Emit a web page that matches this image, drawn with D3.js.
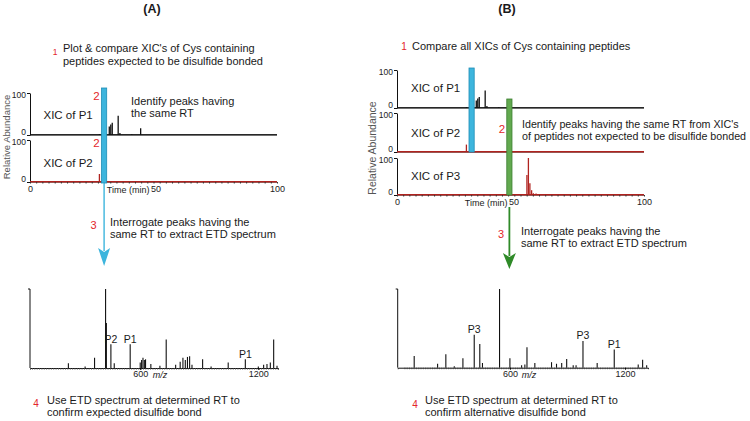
<!DOCTYPE html>
<html><head><meta charset="utf-8">
<script src="https://cdn.jsdelivr.net/npm/d3@7"></script>
<style>
body{margin:0;background:#fff}
svg{display:block}
text{font-family:"Liberation Sans",Arial,sans-serif;fill:#1a1a1a}
</style>
</head><body>
<svg id="c" width="750" height="421"></svg>
<script>
// ---------------- DATA ----------------
const xicTicks = [0, 50, 100];
const specTicks = [600, 1200];
// XIC peaks: [retention time (min), relative abundance]
const p1Peaks = [[28.1,2],[32.1,20],[32.7,25],[33.3,29],[35.7,46],[36.4,5],[41.2,2],[44.8,16]];
const p2Peaks = [[28.1,19]];
const p3Peaks = [[52.6,54],[53.2,100],[53.8,32],[54.5,13],[55.2,5],[56.3,4]];
// retention times highlighted
const rtA = 30.0;
const rtB1 = 30.2;
const rtB2 = 45.5;
// ETD spectra: [m/z, relative intensity]
const spectrumA = [[235,6],[320,2],[368,13],[424,100],[428,57],[451,30],[468,6],[549,30],
  [600,7],[607,10],[614,13],[621,10],[627,11],[654,5],[700,3],[732,36],[780,4],[803,8],[817,13],
  [829,10],[840,14],[851,15],[863,4],[917,11],[960,2],[1047,7],[1134,11],[1200,2],[1227,4],
  [1244,5],[1261,7],[1278,36],[1295,3]];
const spectrumB = [[101,15],[223,5],[266,17],[310,2],[355,12],[414,42],[443,30],[457,6],[546,100],
  [600,12],[661,3],[678,4],[689,26],[730,6],[817,7],[843,5],[870,6],[896,11],[930,3],[945,3],
  [981,34],[1055,6],[1144,23],[1269,4],[1292,10],[1313,3]];
const labelsA = [["P2",451],["P1",549],["P1",1134]];
const labelsB = [["P3",414],["P3",981],["P1",1144]];

// ---------------- DRAWING ----------------
const svg = d3.select('#c');
const RED = '#e3262b', TRACE_RED = '#b0231f';
const CYAN = '#3db5dd', CYAN_D = '#1f8db6';
const GREEN = '#62a94f', GREEN_D = '#3c7f31', GREEN_A = '#2f8a28';

function txt(x, y, s, o = {}) {
  const t = svg.append('text').attr('x', x).attr('y', y).text(s)
    .attr('font-size', o.size || 11);
  if (o.fill) t.style('fill', o.fill);
  if (o.anchor) t.attr('text-anchor', o.anchor);
  if (o.weight) t.attr('font-weight', o.weight);
  if (o.italic) t.attr('font-style', 'italic');
  return t;
}

function xicPanel(xs, ys, peaks, color, lw) {
  const g = svg.append('g');
  const x0 = xs.range()[0];
  const ya = g.append('g').attr('transform', `translate(${x0},0)`)
    .call(d3.axisLeft(ys).tickValues([0, 100]).tickSize(3).tickSizeOuter(0).tickPadding(1));
  ya.selectAll('text').attr('font-size', 8.5).style('fill', '#222').attr('font-family', null)
    .attr('dy', d => d === 0 ? '-0.05em' : '0.55em');
  ya.selectAll('line,path').attr('stroke', '#111');
  g.append('line').attr('x1', xs(0)).attr('x2', xs(100)).attr('y1', ys(0)).attr('y2', ys(0))
    .attr('stroke', '#111').attr('stroke-width', 1);
  g.append('line').attr('x1', xs(0)).attr('x2', xs(100)).attr('y1', ys(0) - 0.3).attr('y2', ys(0) - 0.3)
    .attr('stroke', color).attr('stroke-width', lw);
  g.selectAll('.pk').data(peaks).join('line')
    .attr('x1', d => xs(d[0])).attr('x2', d => xs(d[0]))
    .attr('y1', ys(0)).attr('y2', d => ys(d[1]))
    .attr('stroke', color).attr('stroke-width', 1.3);
  return g;
}

function timeAxis(xs, y, shift50) {
  const g = svg.append('g').attr('transform', `translate(0,${y})`)
    .call(d3.axisBottom(xs).tickValues(d3.range(0, 101, 2.5)).tickSize(1.5).tickFormat(''));
  g.select('.domain').remove();
  g.selectAll('line').attr('stroke', '#333');
  const g2 = svg.append('g').attr('transform', `translate(0,${y})`)
    .call(d3.axisBottom(xs).tickValues(xicTicks).tickSize(0).tickPadding(4).tickFormat(d3.format('d')));
  g2.select('.domain').remove();
  g2.selectAll('text').attr('font-size', 9).style('fill', '#222').attr('font-family', null)
    .attr('dx', d => d === 50 ? shift50 : 0);
  const x50 = xs(50) + shift50;
  txt(x50 - 6, y + 11, 'Time (min)', { size: 9, anchor: 'end', fill: '#222' });
}

function bar(xs, rt, yTop, yBot, fill, stroke) {
  svg.append('rect').attr('x', xs(rt) - 2.6).attr('width', 5.2)
    .attr('y', yTop).attr('height', yBot - yTop)
    .attr('fill', fill).attr('stroke', stroke).attr('stroke-width', 0.8);
}

function arrow(x, y1, yBase, yTip, half, color, lw) {
  svg.append('line').attr('x1', x).attr('x2', x).attr('y1', y1).attr('y2', yBase + 2)
    .attr('stroke', color).attr('stroke-width', lw);
  svg.append('path')
    .attr('d', `M${x - half},${yBase - 1}L${x},${yBase + 3}L${x + half},${yBase - 1}L${x},${yTip}Z`)
    .attr('fill', color);
}

function spectrum(xs, ys, data, labels, labelDy) {
  const g = svg.append('g');
  const [x0] = xs.range();
  g.append('line').attr('x1', x0).attr('x2', x0).attr('y1', ys(0)).attr('y2', ys(100))
    .attr('stroke', '#111');
  g.append('line').attr('x1', x0 - 2).attr('x2', x0).attr('y1', ys(100)).attr('y2', ys(100))
    .attr('stroke', '#111');
  const minor = svg.append('g').attr('transform', `translate(0,${ys(0)})`)
    .call(d3.axisBottom(xs).tickValues(d3.range(50, 1310, 12)).tickSize(1.5).tickFormat(''));
  minor.select('.domain').attr('stroke', '#111');
  minor.selectAll('line').attr('stroke', '#444');
  const ax = svg.append('g').attr('transform', `translate(0,${ys(0)})`)
    .call(d3.axisBottom(xs).tickValues(specTicks).tickSize(2).tickPadding(1).tickFormat(d3.format('d')));
  ax.select('.domain').remove();
  ax.selectAll('text').attr('font-size', 9).style('fill', '#222').attr('font-family', null);
  g.selectAll('.sp').data(data).join('line')
    .attr('x1', d => xs(d[0])).attr('x2', d => xs(d[0]))
    .attr('y1', ys(0)).attr('y2', d => ys(d[1]))
    .attr('stroke', '#111').attr('stroke-width', 1.1);
  labels.forEach(([s, mz]) => {
    const h = data.find(d => d[0] === mz)[1];
    txt(xs(mz), ys(h) - labelDy, s, { size: 10.5, anchor: 'middle' });
  });
  txt(xs(700), ys(0) + 10, 'm/z', { size: 9, italic: true, anchor: 'middle', fill: '#222' });
}

// ===== Panel A =====
txt(152, 13, '(A)', { size: 12.5, weight: 'bold', anchor: 'middle' });
txt(55, 55, '1', { size: 8.5, fill: RED, anchor: 'middle' });
txt(63, 52, "Plot & compare XIC's of Cys containing");
txt(63, 64.5, 'peptides expected to be disulfide bonded');

const xA = d3.scaleLinear([0, 100], [30, 277]);
const yA1 = d3.scaleLinear([0, 100], [135, 93]);
const yA2 = d3.scaleLinear([0, 100], [182, 140]);
xicPanel(xA, yA1, p1Peaks, '#111', 1);
xicPanel(xA, yA2, p2Peaks, TRACE_RED, 1.6);
timeAxis(xA, 182, 2);
txt(9.5, 137, 'Relative Abundance', { size: 9.5, anchor: 'middle', fill: '#555' })
  .attr('transform', 'rotate(-90,9.5,137)');
bar(xA, rtA, 88, 183, CYAN, CYAN_D);
arrow(xA(rtA), 183, 249, 266, 6, CYAN, 1.4);
txt(96.5, 100, '2', { size: 11.5, fill: RED, anchor: 'middle' });
txt(96.5, 147, '2', { size: 11.5, fill: RED, anchor: 'middle' });
txt(131, 104.5, 'Identify peaks having');
txt(131, 117, 'the same RT');
txt(43.5, 118.5, 'XIC of P1', { size: 11.5 });
txt(43.5, 167, 'XIC of P2', { size: 11.5 });
txt(93.5, 229, '3', { size: 11, fill: RED, anchor: 'middle' });
txt(110, 225.5, 'Interrogate peaks having the');
txt(110, 237.5, 'same RT to extract ETD spectrum');

const mzA = d3.scaleLinear([40, 1300], [30, 278]);
const iA = d3.scaleLinear([0, 100], [368, 289]);
spectrum(mzA, iA, spectrumA, labelsA, 1.5);

txt(36, 407, '4', { size: 10, fill: RED, anchor: 'middle' });
txt(47, 403.5, 'Use ETD spectrum at determined RT to');
txt(47, 415.5, 'confirm expected disulfide bond');

// ===== Panel B =====
txt(507, 13, '(B)', { size: 12.5, weight: 'bold', anchor: 'middle' });
txt(404, 50, '1', { size: 10, fill: RED, anchor: 'middle' });
txt(412, 50, 'Compare all XICs of Cys containing peptides');

const xB = d3.scaleLinear([0, 100], [397, 644]);
const yB1 = d3.scaleLinear([0, 100], [108, 70]);
const yB2 = d3.scaleLinear([0, 100], [152, 113]);
const yB3 = d3.scaleLinear([0, 100], [195, 158]);
xicPanel(xB, yB1, p1Peaks, '#111', 1);
xicPanel(xB, yB2, p2Peaks, TRACE_RED, 1.6);
xicPanel(xB, yB3, p3Peaks, TRACE_RED, 1.6);
timeAxis(xB, 195, -7);
txt(375.5, 148, 'Relative Abundance', { size: 10.5, anchor: 'middle', fill: '#555' })
  .attr('transform', 'rotate(-90,375.5,148)');
bar(xB, rtB1, 68, 152, CYAN, CYAN_D);
bar(xB, rtB2, 99, 195, GREEN, GREEN_D);
arrow(xB(rtB2), 207, 254, 269, 6.5, GREEN_A, 1.8);
txt(411, 92, 'XIC of P1', { size: 11.5 });
txt(411, 137, 'XIC of P2', { size: 11.5 });
txt(411, 180, 'XIC of P3', { size: 11.5 });
txt(502, 133, '2', { size: 11.5, fill: RED, anchor: 'middle' });
txt(522, 127.5, "Identify peaks having the same RT from XIC's", { size: 10.7 });
txt(522, 140, 'of peptides not expected to be disulfide bonded', { size: 10.7 });
txt(501, 238, '3', { size: 11, fill: RED, anchor: 'middle' });
txt(521, 234.5, 'Interrogate peaks having the');
txt(521, 246.5, 'same RT to extract ETD spectrum');

const mzB = d3.scaleLinear([15, 1320], [397.7, 648]);
const iB = d3.scaleLinear([0, 100], [367.7, 289]);
spectrum(mzB, iB, spectrumB, labelsB, 1.5);

txt(415, 408, '4', { size: 10, fill: RED, anchor: 'middle' });
txt(425, 404, 'Use ETD spectrum at determined RT to');
txt(425, 416, 'confirm alternative disulfide bond');
</script>
</body></html>
